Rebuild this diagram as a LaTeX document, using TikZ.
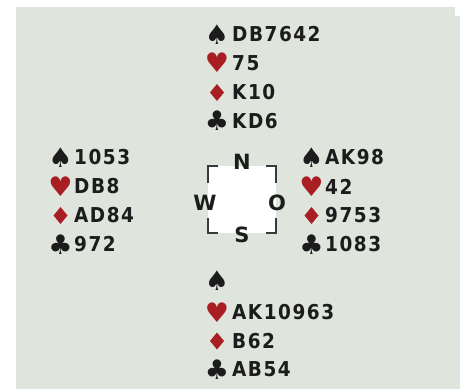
\documentclass[tikz,border=0pt]{standalone}
\usepackage{fontspec}
\usetikzlibrary{shapes.geometric}
\setmainfont{DejaVu Sans Condensed}[LetterSpace=7.5]
\newfontfamily\suitfont{DejaVu Sans}
\newfontfamily\compassfont{DejaVu Sans}
\definecolor{felt}{HTML}{DFE4DD}
\definecolor{ink}{HTML}{1C1C1C}
\definecolor{suitred}{HTML}{A81E23}
\definecolor{frame}{HTML}{3A3A3A}
\begin{document}
\begin{tikzpicture}[x=1pt,y=-1pt,
  cards/.style={anchor=west,inner sep=0pt,text=ink,
    font=\fontsize{20.5}{20.5}\selectfont\bfseries},
  suit/.style={anchor=center,inner sep=0pt,text=ink,
    font=\suitfont\fontsize{27}{27}\selectfont},
  redsuit/.style={suit,text=suitred},
  diam/.style={diamond,fill=suitred,inner sep=0pt,outer sep=0pt,
    minimum width=14pt,minimum height=17pt},
  compass/.style={anchor=center,inner sep=0pt,text=ink,
    font=\compassfont\fontsize{21}{21}\selectfont\bfseries},
  bracket/.style={draw=frame,line width=1.5pt}]
\useasboundingbox (0,0) rectangle (460,389);
% table background
\fill[felt] (16,7) rectangle (460,389);
\fill[white] (455,7) rectangle (460,16);

% North hand
\node[suit]    (nS) at (217,34.5) {♠};
\node[cards]   (nSc) at (232,34.5) {DB7642};
\node[redsuit] (nH) at (217,63) {♥};
\node[cards]   (nHc) at (232,63) {75};
\node[diam]    (nD) at (217,92.5) {};
\node[cards]   (nDc) at (232,92.5) {K10};
\node[suit]    (nC) at (217,121) {♣};
\node[cards]   (nCc) at (232,121) {KD6};

% West hand
\node[suit]    (wS) at (60.5,157.5) {♠};
\node[cards]   (wSc) at (74,157.5) {1053};
\node[redsuit] (wH) at (60.5,186.5) {♥};
\node[cards]   (wHc) at (74,186.5) {DB8};
\node[diam]    (wD) at (60.5,215.5) {};
\node[cards]   (wDc) at (74,215.5) {AD84};
\node[suit]    (wC) at (60.5,244.5) {♣};
\node[cards]   (wCc) at (74,244.5) {972};

% East hand
\node[suit]    (eS) at (311.5,157.5) {♠};
\node[cards]   (eSc) at (325,157.5) {AK98};
\node[redsuit] (eH) at (311.5,186.5) {♥};
\node[cards]   (eHc) at (325,186.5) {42};
\node[diam]    (eD) at (311.5,215.5) {};
\node[cards]   (eDc) at (325,215.5) {9753};
\node[suit]    (eC) at (311.5,244.5) {♣};
\node[cards]   (eCc) at (325,244.5) {1083};

% South hand
\node[suit]    (sS) at (217,281) {♠};
\node[redsuit] (sH) at (217,312.5) {♥};
\node[cards]   (sHc) at (232,312.5) {AK10963};
\node[diam]    (sD) at (217,341) {};
\node[cards]   (sDc) at (232,341) {B62};
\node[suit]    (sC) at (217,369.5) {♣};
\node[cards]   (sCc) at (232,369.5) {AB54};

% compass box
\fill[white] (208,166) rectangle (276,233);
\draw[bracket] (208,183) -- (208,166) -- (218,166);
\draw[bracket] (266,166) -- (276,166) -- (276,183);
\draw[bracket] (276,218) -- (276,233) -- (266,233);
\draw[bracket] (218,233) -- (208,233) -- (208,218);
\node[compass] (N) at (242,162) {N};
\node[compass] (W) at (205,203) {W};
\node[compass] (O) at (277,203) {O};
\node[compass] (S) at (242,235) {S};
\end{tikzpicture}
\end{document}
